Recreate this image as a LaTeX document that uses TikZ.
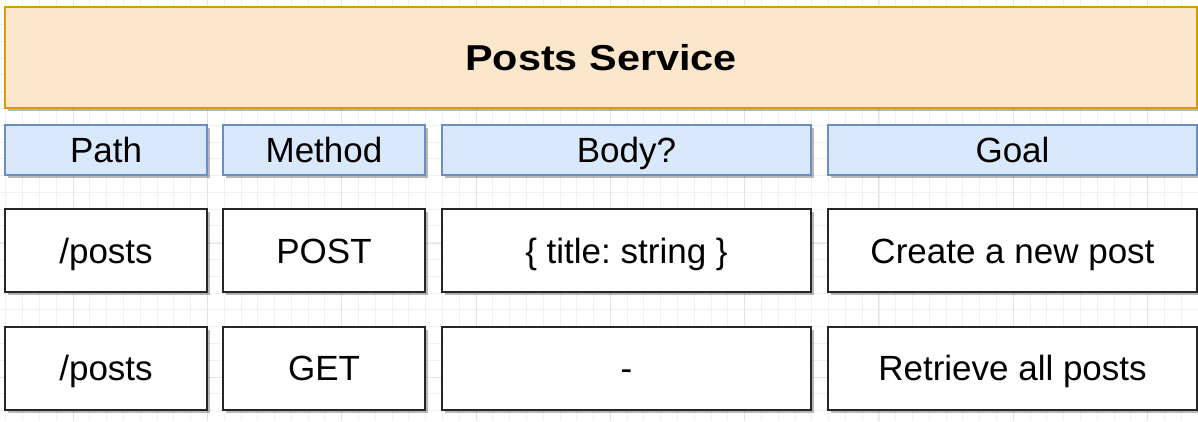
\documentclass[tikz,border=0pt]{standalone}
\usepackage{fontspec}
\setmainfont{Liberation Sans}
\usetikzlibrary{shadows}
\definecolor{titlefill}{HTML}{FCE7CD}
\definecolor{titleline}{HTML}{D79B00}
\definecolor{headfill}{HTML}{DAE8FC}
\definecolor{headline}{HTML}{6C8EBF}
\frenchspacing
\begin{document}
\begin{tikzpicture}[x=1pt,y=-1pt]
			\tikzset{cell/.style={draw,rectangle,line width=#1,inner sep=0pt,text height=25pt,text depth=0pt,
					font=\fontsize{35}{40}\selectfont,
					drop shadow={shadow xshift=3pt,shadow yshift=-3pt,fill=black,opacity=0.28}},
				head cell/.style={cell=1.4pt,fill=headfill,draw=headline,minimum height=50pt},
				row cell/.style={cell=2pt,fill=white,draw=black!85,minimum height=83pt}}
			\useasboundingbox[fill=white] (0,0) rectangle (1198,421);
			% background grid
			\foreach \i in {0,...,71} \draw[black!6,line width=0.8pt] (5.84+\i*16.79,0) -- (5.84+\i*16.79,421);
			\foreach \i in {0,...,25} \draw[black!6,line width=0.8pt] (0,7.6+\i*16.79) -- (1198,7.6+\i*16.79);
			\foreach \i in {0,...,8} \draw[black!11,line width=0.8pt] (73+\i*134.3,0) -- (73+\i*134.3,421);
			\foreach \i in {0,...,3} \draw[black!11,line width=0.8pt] (0,-25.7+\i*134.3) -- (1198,-25.7+\i*134.3);
			% title
			\node [cell=1.6pt,fill=titlefill,draw=titleline,minimum width=1192pt,minimum height=101pt,text height=26pt,
				font=\fontsize{36}{40}\selectfont\bfseries] (title) at (601,57.5) {\scalebox{1.15}[1]{Posts Service}};
			% header row
			\node [head cell,minimum width=202pt] (path) at (106,150) {Path};
			\node [head cell,minimum width=202pt] (method) at (324,150) {Method};
			\node [head cell,minimum width=369pt] (body) at (626.5,150) {Body?};
			\node [head cell,minimum width=369pt] (goal) at (1012.5,150) {Goal};
			% first route
			\node [row cell,minimum width=202pt] (path1) at (106,250.5) {/posts};
			\node [row cell,minimum width=202pt] (method1) at (324,250.5) {POST};
			\node [row cell,minimum width=369pt] (body1) at (626.5,250.5) {\{ title: string \}};
			\node [row cell,minimum width=369pt] (goal1) at (1012.5,250.5) {Create a new post};
			% second route
			\node [row cell,minimum width=202pt] (path2) at (106,368) {/posts};
			\node [row cell,minimum width=202pt] (method2) at (324,368) {GET};
			\node [row cell,minimum width=369pt] (body2) at (626.5,368) {-};
			\node [row cell,minimum width=369pt] (goal2) at (1012.5,368) {Retrieve all posts};
		\end{tikzpicture}
\end{document}
